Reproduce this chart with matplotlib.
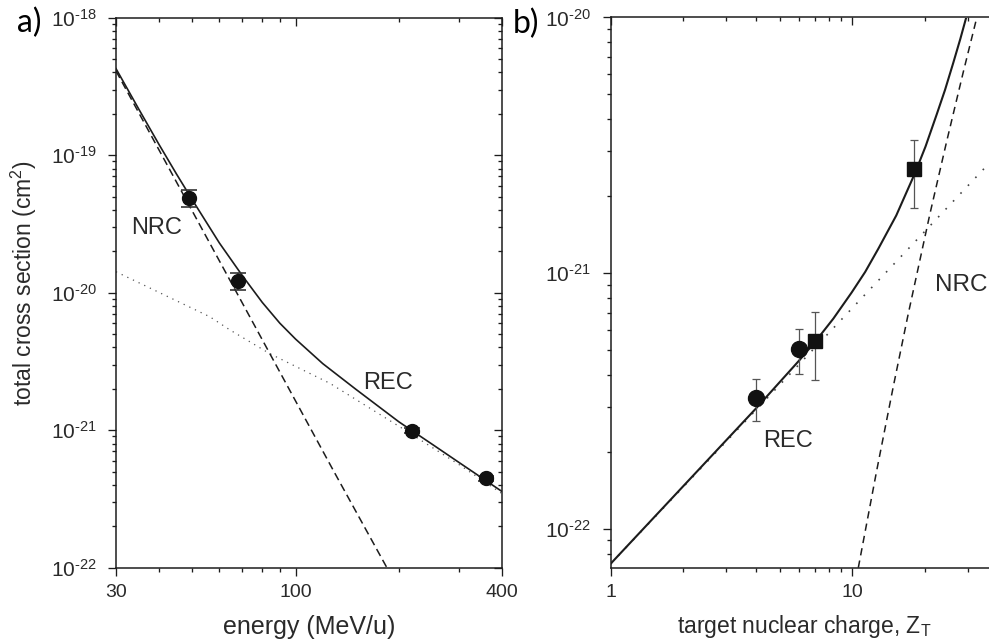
import numpy as np
import matplotlib
matplotlib.use("Agg")
import matplotlib.pyplot as plt
from matplotlib.ticker import FixedLocator, FixedFormatter, NullFormatter, LogLocator

plt.rcParams['font.family'] = ['Liberation Sans', 'DejaVu Sans']
plt.rcParams['mathtext.fontset'] = 'custom'
plt.rcParams['mathtext.rm'] = 'Liberation Sans'
plt.rcParams['mathtext.it'] = 'Liberation Sans:italic'
plt.rcParams['mathtext.bf'] = 'Liberation Sans:bold'
plt.rcParams['mathtext.sf'] = 'Liberation Sans'

# ---------------- panel a) data ----------------
energy_meas = [49, 68, 219, 359]
sigma_meas_a = [4.89e-20, 1.22e-20, 9.9e-22, 4.47e-22]
sigma_lo_a = [4.2e-20, 1.05e-20, 9.5e-22, 4.3e-22]
sigma_hi_a = [5.55e-20, 1.38e-20, 1.04e-21, 4.65e-22]

total_E = [30, 35, 40, 45, 50, 60, 70, 80, 90, 100, 120, 150, 200, 250, 300, 400]
total_sigma_a = [4.26e-19, 2.15e-19, 1.2e-19, 7.3e-20, 4.75e-20, 2.3e-20, 1.33e-20,
                 8.5e-21, 6.0e-21, 4.6e-21, 3.05e-21, 1.98e-21, 1.15e-21, 7.9e-22,
                 5.8e-22, 3.57e-22]

nrc_E = [30, 67.4, 128.8, 184.5]
nrc_sigma_a = [4.1e-19, 1.0e-20, 5.1e-22, 1.0e-22]

rec_E = [30, 56.3, 64.4, 84.2, 126, 206, 300, 400]
rec_sigma_a = [1.42e-20, 6.68e-21, 5.36e-21, 3.6e-21, 2.19e-21, 1.02e-21, 5.6e-22, 3.45e-22]

HY = '\u2010'
xticks_a = [30, 100, 400]
xticklabels_a = ['30', '100', '400']
xminor_a = [40, 50, 60, 70, 80, 90, 200, 300]
yticks_a = [1e-22, 1e-21, 1e-20, 1e-19, 1e-18]
yticklabels_a = [r'$\mathregular{10^{' + HY + '22}}$', r'$\mathregular{10^{' + HY + '21}}$',
                 r'$\mathregular{10^{' + HY + '20}}$', r'$\mathregular{10^{' + HY + '19}}$',
                 r'$\mathregular{10^{' + HY + '18}}$']

# ---------------- panel b) data ----------------
z_circ = [4, 6]
sigma_circ = [3.24e-22, 5.05e-22]
sigma_circ_lo = [2.64e-22, 4.04e-22]
sigma_circ_hi = [3.87e-22, 6.02e-22]

z_sq = [7, 18]
sigma_sq = [5.42e-22, 2.55e-21]
sigma_sq_lo = [3.81e-22, 1.79e-21]
sigma_sq_hi = [7.06e-22, 3.33e-21]

total_Z = [1, 4, 6, 7, 8.35, 9.94, 11.3, 12.81, 15.2, 18.17, 20.1, 22.36,
           24.2, 26.18, 28.0, 29.7]
total_sigma_b = [7.3e-23, 2.96e-22, 4.53e-22, 5.37e-22, 6.64e-22, 8.4e-22, 1.01e-21,
                 1.245e-21, 1.68e-21, 2.46e-21, 3.13e-21, 4.18e-21, 5.21e-21,
                 6.65e-21, 8.25e-21, 1.01e-20]

nrc_Z = [10.59, 12.62, 14.78, 17.0, 20.97, 24.59, 28.8, 32.9]
nrc_sigma_b = [7.04e-23, 1.69e-22, 3.6e-22, 6.85e-22, 1.71e-21, 3.28e-21, 6.12e-21, 1.016e-20]

rec_Z = [1, 9.48, 40]
rec_sigma_b = [7.3e-23, 6.92e-22, 2.92e-21]

xticks_b = [1, 10]
xticklabels_b = ['1', '10']
xminor_b = [2, 3, 4, 5, 6, 7, 8, 9, 20, 30]
yticks_b = [1e-22, 1e-21, 1e-20]
yticklabels_b = [r'$\mathregular{10^{' + HY + '22}}$', r'$\mathregular{10^{' + HY + '21}}$',
                 r'$\mathregular{10^{' + HY + '20}}$']

# ---------------- figure ----------------
W, H = 989, 643
fig = plt.figure(figsize=(W / 100, H / 100), dpi=100)
fig.patch.set_facecolor('white')

INK = '#1c1c1c'
TXT = '#2a2a2a'

def px_axes(left, top, right, bottom):
    return [left / W, 1 - bottom / H, (right - left) / W, (bottom - top) / H]

axA = fig.add_axes(px_axes(116, 17.7, 502.3, 567.7))
axB = fig.add_axes(px_axes(610.7, 17.5, 610.7 + np.log10(40) * 241.6, 567.7))

def style_axes(ax, xt, xtl, xmin, yt, ytl, xlim, ylim):
    ax.set_xscale('log')
    ax.set_yscale('log')
    ax.set_xlim(*xlim)
    ax.set_ylim(*ylim)
    for s in ax.spines.values():
        s.set_linewidth(1.1)
        s.set_color(INK)
    ax.spines['top'].set_visible(False)
    ax.spines['right'].set_visible(False)
    ax.xaxis.set_major_locator(FixedLocator(xt))
    ax.xaxis.set_major_formatter(FixedFormatter(xtl))
    ax.xaxis.set_minor_locator(FixedLocator(xmin))
    ax.xaxis.set_minor_formatter(NullFormatter())
    ax.yaxis.set_major_locator(FixedLocator(yt))
    ax.yaxis.set_major_formatter(FixedFormatter(ytl))
    ax.yaxis.set_minor_locator(LogLocator(base=10, subs=np.arange(2, 10), numticks=20))
    ax.yaxis.set_minor_formatter(NullFormatter())
    ax.tick_params(which='both', direction='out', top=False, right=False,
                   color=INK, width=0.95, labelcolor=TXT)
    ax.tick_params(axis='x', labelsize=14)
    ax.tick_params(axis='y', labelsize=15)
    ax.tick_params(which='major', length=5.5)
    ax.tick_params(which='minor', length=3)
    ax.tick_params(axis='x', which='major', pad=6)
    ax.tick_params(axis='y', which='major', pad=8.5)
    # inward ticks on top and right
    secx = ax.secondary_xaxis('top')
    secx.xaxis.set_major_locator(FixedLocator(xt))
    secx.xaxis.set_minor_locator(FixedLocator(xmin))
    secx.xaxis.set_major_formatter(NullFormatter())
    secx.xaxis.set_minor_formatter(NullFormatter())
    secx.tick_params(which='both', direction='in', color=INK, width=0.95)
    secx.tick_params(which='major', length=5.5)
    secx.tick_params(which='minor', length=3)
    secx.spines['top'].set_linewidth(1.1)
    secx.spines['top'].set_color(INK)
    secy = ax.secondary_yaxis('right')
    secy.yaxis.set_major_locator(FixedLocator(yt))
    secy.yaxis.set_minor_locator(LogLocator(base=10, subs=np.arange(2, 10), numticks=20))
    secy.yaxis.set_major_formatter(NullFormatter())
    secy.yaxis.set_minor_formatter(NullFormatter())
    secy.tick_params(which='both', direction='in', color=INK, width=0.95)
    secy.tick_params(which='major', length=5.5)
    secy.tick_params(which='minor', length=3)
    secy.spines['right'].set_linewidth(1.1)
    secy.spines['right'].set_color(INK)

style_axes(axA, xticks_a, xticklabels_a, xminor_a, yticks_a, yticklabels_a,
           (30, 400), (1e-22, 1e-18))
style_axes(axB, xticks_b, xticklabels_b, xminor_b, yticks_b, yticklabels_b,
           (1, 40), (7.04e-23, 1e-20))

# ---------------- panel a) curves ----------------
axA.plot(rec_E, rec_sigma_a, color='#555555', lw=0.9, linestyle=(0, (1, 4)))
axA.plot(nrc_E, nrc_sigma_a, color=INK, lw=1.1, linestyle=(0, (5.2, 2.9)))
axA.plot(total_E, total_sigma_a, color=INK, lw=1.2)

yerr_a = [np.array(sigma_meas_a) - np.array(sigma_lo_a),
          np.array(sigma_hi_a) - np.array(sigma_meas_a)]
axA.errorbar(energy_meas, sigma_meas_a, yerr=yerr_a, fmt='o', ms=10,
             mfc='#111111', mec='#111111', ecolor='#333333', elinewidth=1.2,
             capsize=5.6, capthick=1.2, zorder=5)

axA.text(33.3, 2.94e-20, 'NRC', fontsize=17, color=TXT, ha='left', va='center')
axA.text(156.9, 2.19e-21, 'REC', fontsize=17, color=TXT, ha='left', va='center')

axA.set_xlabel('energy (MeV/u)', fontsize=18, color=TXT, labelpad=10)

# ---------------- panel b) curves ----------------
axB.plot(rec_Z, rec_sigma_b, color='#444444', lw=1.2, linestyle=(0, (1, 5.5)))
axB.plot(nrc_Z, nrc_sigma_b, color=INK, lw=1.1, linestyle=(0, (4.8, 3.4)))
axB.plot(total_Z, total_sigma_b, color=INK, lw=1.5)

yerr_c = [np.array(sigma_circ) - np.array(sigma_circ_lo),
          np.array(sigma_circ_hi) - np.array(sigma_circ)]
axB.errorbar(z_circ, sigma_circ, yerr=yerr_c, fmt='o', ms=11.5,
             mfc='#111111', mec='#111111', ecolor='#555555', elinewidth=0.9,
             capsize=3, capthick=0.9, zorder=5)
yerr_s = [np.array(sigma_sq) - np.array(sigma_sq_lo),
          np.array(sigma_sq_hi) - np.array(sigma_sq)]
axB.errorbar(z_sq, sigma_sq, yerr=yerr_s, fmt='s', ms=10,
             mfc='#111111', mec='#111111', ecolor='#555555', elinewidth=0.9,
             capsize=3, capthick=0.9, zorder=5)

axB.text(4.26, 2.21e-22, 'REC', fontsize=17, color=TXT, ha='left', va='center')
axB.text(21.9, 8.97e-22, 'NRC', fontsize=17.5, color=TXT, ha='left', va='center')

axB.set_xlabel(r'target nuclear charge, $\mathregular{Z_T}$', fontsize=16.5,
               color=TXT, labelpad=9)

# y label and panel letters
fig.text(24 / W, 1 - 283.5 / H, r'total cross section (cm$^\mathregular{2}$)',
         rotation=90, ha='center', va='center', fontsize=16.5, color=TXT)
fig.text(17 / W, 1 - 31.7 / H, 'a)', fontsize=23, family=['Lato', 'DejaVu Sans'],
         color='black', ha='left', va='baseline')
fig.text(512.7 / W, 1 - 33 / H, 'b)', fontsize=23, family=['Lato', 'DejaVu Sans'],
         color='black', ha='left', va='baseline')

fig.savefig('out.png', dpi=100)
